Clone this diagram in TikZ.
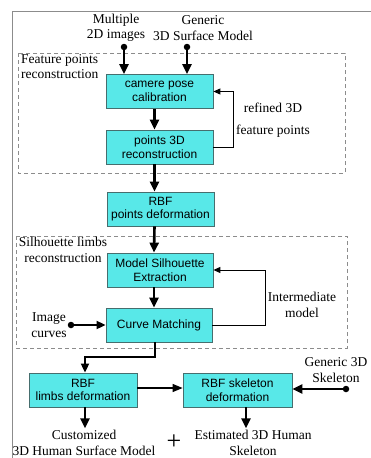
\documentclass[tikz,border=0pt]{standalone}
\usepackage{fontspec}
\setmainfont{Liberation Serif}
\setsansfont{Liberation Sans}
\usetikzlibrary{arrows.meta,calc}
\definecolor{boxfill}{RGB}{88,232,232}
\definecolor{boxline}{RGB}{70,110,110}
\definecolor{framegray}{RGB}{140,140,140}
\tikzset{
  x=1pt,y=-1pt,
  stagebox/.style={draw=boxline,line width=0.8pt,fill=boxfill,minimum width=107pt,minimum height=34pt,
    align=center,inner sep=1pt,font=\sffamily\fontsize{12}{13.5}\selectfont},
  lbl/.style={align=center,inner sep=0pt,font=\rmfamily\fontsize{13.5}{15.5}\selectfont},
  bigarrow/.style={line width=2.6pt,-{Triangle[length=10pt,width=9pt]}},
  midarrow/.style={line width=1.8pt,-{Triangle[length=9pt,width=8pt]}},
  thinarrow/.style={line width=1pt,-{Triangle[length=7pt,width=6pt]}},
  sidearrow/.style={line width=1.2pt,-{Triangle[length=10pt,width=8pt]}},
  group/.style={draw=framegray,line width=0.9pt,dash pattern=on 4pt off 3pt},
  dotend/.style={circle,fill=black,inner sep=0pt,minimum size=6.5pt},
}
\begin{document}
\begin{tikzpicture}
\useasboundingbox (0,0) rectangle (370,458);
\fill[white] (0,0) rectangle (370,458);
% outer frame
\draw[framegray,line width=1pt] (12,470) -- (12,11) -- (380,11);
% group frames
\draw[group] (18,53) rectangle (345,173);
\draw[group] (16,236) rectangle (347,348);
\node[lbl,align=left,anchor=north west] (g1) at (21,54) {Feature points\\reconstruction};
\node[lbl] (g2) at (63,250) {Silhouette limbs\\reconstruction};
% boxes
\node[stagebox] (cam) at (159.5,91.5) {camere pose\\calibration};
\node[stagebox] (pts) at (159.5,147) {points 3D\\reconstruction};
\node[stagebox] (rbf) at (160.5,209) {RBF\\points deformation};
\node[stagebox,minimum width=106pt] (sil) at (160,270) {Model Silhouette\\Extraction};
\node[stagebox,minimum width=106pt] (cm) at (159,325) {Curve Matching};
\node[stagebox,minimum width=108pt] (limbs) at (83,390) {RBF\\limbs deformation};
\node[stagebox,minimum width=109pt] (skel) at (237.5,390) {RBF skeleton\\deformation};
% inputs
\node[lbl] (t1) at (116,28) {Multiple\\2D images};
\node[lbl] (t2) at (203,28) {Generic\\3D Surface Model};
\node[dotend] (d1) at (124,47) {};
\node[dotend] (d2) at (187,47) {};
\draw[bigarrow] (d1.center) -- (d1.center |- cam.north);
\draw[bigarrow] (d2.center) -- (d2.center |- cam.north);
% main column
\draw[bigarrow] ([xshift=-5pt]cam.south) -- ([xshift=-5pt]pts.north);
\draw[bigarrow] ([xshift=-5pt]pts.south) -- ([xshift=-6pt]rbf.north);
\draw[bigarrow] ([xshift=-6pt]rbf.south) -- ([xshift=-6pt]sil.north);
\draw[bigarrow] ([xshift=-6pt]sil.south) -- ([xshift=-5pt]cm.north);
% feedback 1
\draw[thinarrow] (pts.east) -- (233,147) |- (cam.east);
\node[lbl] (fb1) at (273,120) {refined 3D\\[6pt]feature points};
% feedback 2
\draw[thinarrow] (cm.east) -- (265,325) |- (sil.east);
\node[lbl] (fb2) at (302,305) {Intermediate\\model};
% image curves
\node[lbl] (ic) at (49,325) {Image\\curves};
\node[dotend] (d3) at (71,325) {};
\draw[midarrow] (d3.center) -- (cm.west);
% to limbs
\coordinate (k1) at (155,357);
\draw[midarrow] ([xshift=-4pt]cm.south) -- (k1) -- (85,357) -- ([xshift=2pt]limbs.north);
% limbs to skeleton
\draw[sidearrow] (limbs.east |- 0,388) -- (skel.west |- 0,388);
% generic skeleton
\node[lbl] (gs) at (336,370) {Generic 3D\\Skeleton};
\node[dotend] (d4) at (346,389) {};
\draw[bigarrow] (d4.center) -- (skel.east |- d4.center);
% outputs
\draw[bigarrow] ([xshift=2pt]limbs.south) -- ++(0,21);
\draw[bigarrow] ([xshift=8.5pt]skel.south) -- ++(0,21);
\node[lbl] (o1) at (84,443) {Customized\\3D Human Surface Model};
\node[lbl,font=\rmfamily\fontsize{26}{26}\selectfont] (plus) at (174,442) {+};
\node[lbl] (o2) at (253,443) {Estimated 3D Human\\Skeleton};
\end{tikzpicture}
\end{document}
